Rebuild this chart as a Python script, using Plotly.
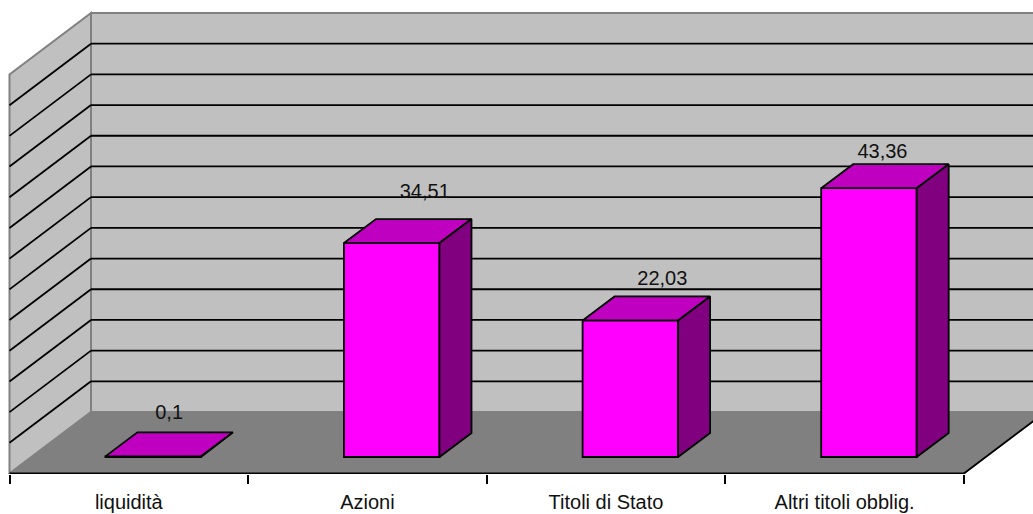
import plotly.graph_objects as go

# --- data ---
categories = ["liquidità", "Azioni", "Titoli di Stato", "Altri titoli obblig."]
values = [0.1, 34.51, 22.03, 43.36]
value_labels = ["0,1", "34,51", "22,03", "43,36"]

# --- canvas / scale (1 x unit = one category slot, 1 y unit = one value unit) ---
W, H, BOTTOM = 1033, 514, 40
PX_X = 238.6
PX_Y = 6.2
X_ORIGIN_PX = 9.5          # left end of the front axis
WALL_BASE_PX = 412.0       # pixel row of the base of the back wall
WALL_TOP = (WALL_BASE_PX - 13) / PX_Y
WALL_DX = 81.5 / PX_X
WALL_DY = 61.5 / PX_Y
GRID_COUNT = 13
BAR_OFFSET = 0.102
BAR_WIDTH = 95.5 / PX_X
BAR_DX = 32 / PX_X
BAR_DY = 24 / PX_Y
BAR_BASE = (WALL_BASE_PX - 457) / PX_Y
# label nudges relative to the bar's front-top centre
label_dx = [16 / PX_X, 33 / PX_X, 32 / PX_X, 13.5 / PX_X]
label_dy = [42.5 / PX_Y, 50 / PX_Y, 40 / PX_Y, 35.5 / PX_Y]

X_MIN = -0.5 - X_ORIGIN_PX / PX_X
X_MAX = (W - X_ORIGIN_PX) / PX_X - 0.5
Y_MIN = -(H - BOTTOM - WALL_BASE_PX) / PX_Y
Y_MAX = WALL_BASE_PX / PX_Y
X_L, X_R = -0.5, 3.5
FRONT = -WALL_DY
BACK_L = X_L + WALL_DX
BACK_R = X_R + WALL_DX

WALL = "#C0C0C0"
FLOOR = "#808080"
EDGE = "#808080"
INK = "#000000"
BAR_FRONT = "#FF00FF"
BAR_TOP = "#C000C0"
BAR_SIDE = "#800080"
LW = 1.8


def poly(pts, fill, line, width=LW):
    path = "M" + " L".join(f"{x},{y}" for x, y in pts) + " Z"
    return dict(type="path", xref="x", yref="y", path=path, fillcolor=fill,
                line=dict(color=line, width=width), layer="below")


def seg(x0, y0, x1, y1, color, width=LW):
    return dict(type="line", xref="x", yref="y", x0=x0, y0=y0, x1=x1, y1=y1,
                line=dict(color=color, width=width), layer="below")


shapes = [
    poly([(BACK_L, 0), (BACK_R + 1, 0), (BACK_R + 1, WALL_TOP), (BACK_L, WALL_TOP)], WALL, EDGE, 2),
    poly([(X_L, FRONT), (BACK_L, 0), (BACK_L, WALL_TOP), (X_L, WALL_TOP + FRONT)], WALL, EDGE, 2),
    poly([(X_L, FRONT), (X_R, FRONT), (BACK_R, 0), (BACK_L, 0)], FLOOR, EDGE, 1.5),
]
step = WALL_TOP / GRID_COUNT
for k in range(1, GRID_COUNT):
    g = k * step
    shapes.append(seg(BACK_L, g, BACK_R + 1, g, INK))
    shapes.append(seg(X_L, g + FRONT, BACK_L, g, INK))
shapes.append(seg(X_L, FRONT, X_R, FRONT, INK, 2))
shapes.append(seg(X_R, FRONT, BACK_R, 0, INK, LW))

fig = go.Figure()
centres = [i + BAR_OFFSET for i in range(len(values))]

fig.add_trace(go.Bar(
    x=centres, y=values, base=[BAR_BASE] * len(values), width=BAR_WIDTH,
    marker=dict(color=BAR_FRONT, line=dict(color=INK, width=LW)),
    hoverinfo="skip", showlegend=False,
))

for c, v in zip(centres, values):
    l, r = c - BAR_WIDTH / 2, c + BAR_WIDTH / 2
    top = BAR_BASE + v
    # top face
    fig.add_trace(go.Scatter(
        x=[l, r, r + BAR_DX, l + BAR_DX, l],
        y=[top, top, top + BAR_DY, top + BAR_DY, top],
        mode="lines", fill="toself", fillcolor=BAR_TOP,
        line=dict(color=INK, width=LW), hoverinfo="skip", showlegend=False,
    ))
    # side face
    fig.add_trace(go.Scatter(
        x=[r, r + BAR_DX, r + BAR_DX, r, r],
        y=[top, top + BAR_DY, BAR_BASE + BAR_DY, BAR_BASE, top],
        mode="lines", fill="toself", fillcolor=BAR_SIDE,
        line=dict(color=INK, width=LW), hoverinfo="skip", showlegend=False,
    ))

fig.add_trace(go.Scatter(
    x=[c + d for c, d in zip(centres, label_dx)],
    y=[BAR_BASE + v + d for v, d in zip(values, label_dy)],
    mode="text", text=value_labels, textposition="middle center",
    textfont=dict(family="Liberation Sans", size=20, color="#111111"),
    hoverinfo="skip", showlegend=False,
))

fig.update_layout(
    width=W, height=H, margin=dict(l=0, r=0, t=0, b=BOTTOM, pad=0),
    paper_bgcolor="white", plot_bgcolor="white", shapes=shapes,
    showlegend=False, barmode="overlay", template="none",
    xaxis=dict(
        range=[X_MIN, X_MAX], showgrid=False, zeroline=False, showline=False,
        automargin=False,
        tickmode="array", tickvals=list(range(len(categories))), ticktext=categories,
        ticks="outside", ticklen=10, tickcolor="rgba(0,0,0,0)", tickwidth=1,
        tickfont=dict(family="Liberation Sans", size=20, color="#111111"),
        minor=dict(tickmode="array", tickvals=[-0.5, 0.5, 1.5, 2.5, 3.5],
                   ticks="outside", ticklen=9, tickcolor=INK, tickwidth=1.8, showgrid=False),
    ),
    yaxis=dict(range=[Y_MIN, Y_MAX], visible=False, showgrid=False, zeroline=False,
               automargin=False),
)

fig.write_html("out.html", config=dict(displayModeBar=False),
               post_script="document.body.style.margin='0';document.body.style.overflow='hidden';")
